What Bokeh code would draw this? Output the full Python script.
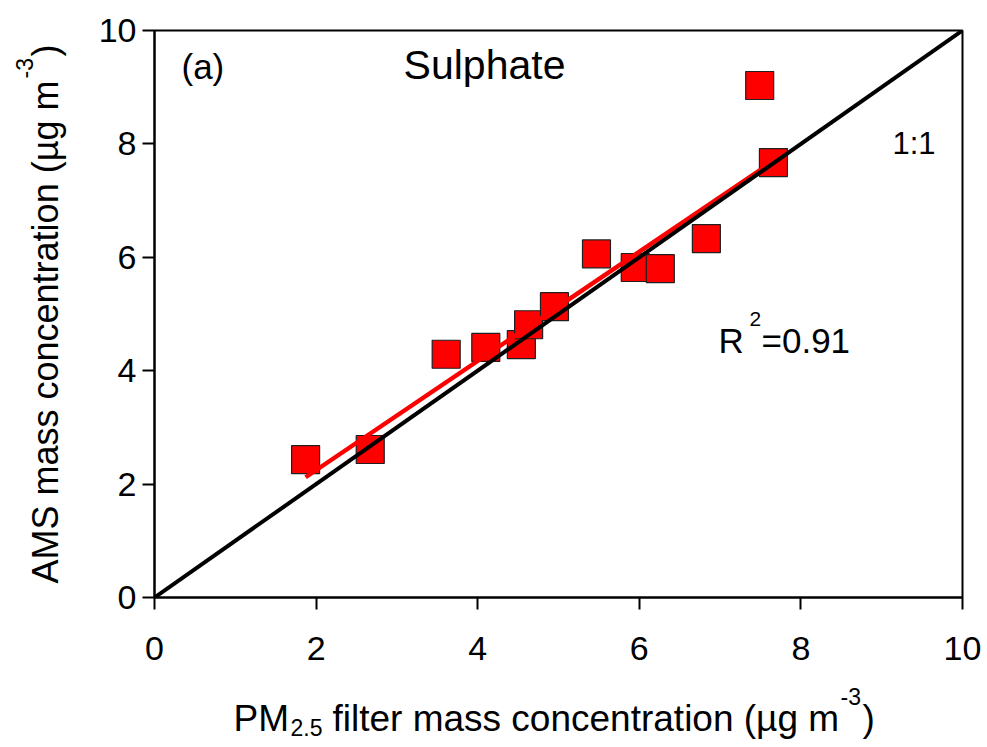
import math
from bokeh.plotting import figure
from bokeh.models import Range1d, Label, FixedTicker
from bokeh.layouts import row, column
from bokeh.embed import file_html
from bokeh.resources import INLINE

# ---- data ----
filter_pm25 = [1.87, 2.67, 3.61, 4.10, 4.54, 4.63, 4.95, 5.47, 5.95, 6.26, 6.83, 7.49, 7.66]
ams_sulphate = [2.43, 2.61, 4.29, 4.41, 4.46, 4.81, 5.13, 6.06, 5.82, 5.80, 6.33, 9.03, 7.67]
fit_slope = 0.963
fit_intercept = 0.32
one_to_one = [0, 10]
ticks = [0, 2, 4, 6, 8, 10]

FONT = "Liberation Sans"
W, H = 987, 747
YW = 80            # width of strip holding the y-axis title
XH = 70            # height of strip holding the x-axis title
ML, MR, MT, MB = 74, 25, 30, 80   # borders of the main figure
MW, MH = W - YW, H - XH

main = figure(width=MW, height=MH, output_backend="svg", toolbar_location=None, title=None,
              x_range=Range1d(0, 10), y_range=Range1d(0, 10),
              min_border_left=ML, min_border_right=MR, min_border_top=MT, min_border_bottom=MB)
main.grid.visible = False
main.outline_line_color = "black"
main.outline_line_width = 2
main.background_fill_color = "white"
main.border_fill_color = "white"

for ax in (main.xaxis[0], main.yaxis[0]):
    ax.ticker = FixedTicker(ticks=ticks)
    ax.axis_line_color = "black"
    ax.axis_line_width = 2
    ax.major_tick_line_color = "black"
    ax.major_tick_line_width = 2
    ax.major_tick_out = 12
    ax.major_tick_in = 0
    ax.minor_tick_line_color = None
    ax.major_label_text_font = FONT
    ax.major_label_text_font_size = "34px"
    ax.major_label_text_color = "black"
    ax.axis_label = None
main.xaxis.major_label_standoff = 27
main.yaxis.major_label_standoff = 6

fx = [min(filter_pm25), max(filter_pm25)]
fy = [fit_intercept + fit_slope * v for v in fx]
main.scatter(filter_pm25, ams_sulphate, marker="square", size=28,
             fill_color="#ff0000", line_color="#202020", line_width=1.2)
main.line(fx, fy, line_color="#ff0000", line_width=4.5)
main.line(one_to_one, one_to_one, line_color="black", line_width=4)

# canvas pixel -> main data coordinates (for annotation placement)
FL = YW + ML
FT = MT
FW = MW - ML - MR
FH = MH - MT - MB
def dx(px):
    return (px - FL) / FW * 10
def dy(py):
    return (FT + FH - py) / FH * 10

def lab(fig, text, x, y, size, angle=0, align="left"):
    fig.add_layout(Label(x=x, y=y, text=text, text_font=FONT,
                         text_font_size=f"{size}px", text_color="black",
                         angle=angle, text_align=align, text_baseline="middle"))

def mlab(text, px, py, size, align="left"):
    lab(main, text, dx(px), dy(py), size, align=align)

mlab("(a)", 181, 66, 35)
mlab("Sulphate", 484, 64, 41, align="center")
mlab("1:1", 892, 143, 31)
mlab("R", 718, 340, 35)
mlab("2", 749, 318, 21)
mlab("=0.91", 761, 340, 35)

# x-axis title strip: its frame lines up with the main frame horizontally
xfig = figure(width=MW, height=XH, output_backend="svg", toolbar_location=None, title=None,
              x_range=Range1d(0, 10), y_range=Range1d(H, MH),
              x_axis_type=None, y_axis_type=None,
              min_border_left=ML, min_border_right=MR, min_border_top=0, min_border_bottom=0)
xfig.outline_line_color = None
xs = 37
def xlab(text, px, py, size):
    lab(xfig, text, dx(px), py, size)
xlab("PM", 233, 718, xs)
xlab("2.5", 290, 727, 23)
xlab("filter mass concentration (µg m", 332, 718, xs)
xlab("-3", 840, 696, 23)
xlab(")", 862, 718, xs)

# y-axis title strip (coordinates in canvas pixels)
yfig = figure(width=YW, height=H, output_backend="svg", toolbar_location=None, title=None,
              x_range=Range1d(0, YW), y_range=Range1d(H, 0),
              x_axis_type=None, y_axis_type=None,
              min_border_left=0, min_border_right=0, min_border_top=0, min_border_bottom=0)
yfig.outline_line_color = None
ys = 36
a = math.pi / 2
lab(yfig, "AMS mass concentration (µg m", 45, 583, ys, angle=a)
lab(yfig, "-3", 24, 78, 23, angle=a)
lab(yfig, ")", 45, 56, ys, angle=a)

layout = row(yfig, column(main, xfig, spacing=0), spacing=0)
open("out.html", "w").write(file_html(layout, INLINE))
